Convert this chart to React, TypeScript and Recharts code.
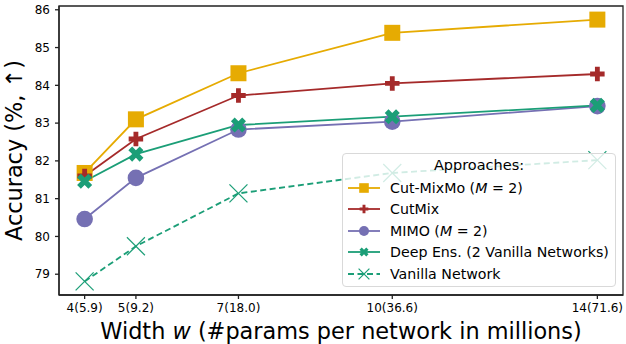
import React from 'react';
import {
  LineChart,
  Line,
  XAxis,
  YAxis,
  Legend,
  ReferenceArea,
} from 'recharts';

const widths = [4, 5, 7, 10, 14];
const paramCounts = ['5.9', '9.2', '18.0', '36.6', '71.6'];
const accuracyTicks = [79, 80, 81, 82, 83, 84, 85, 86];

const cutMixMo = [81.68, 83.1, 84.32, 85.39, 85.74];
const cutMix = [81.6, 82.58, 83.73, 84.05, 84.3];
const mimo = [80.46, 81.55, 82.83, 83.04, 83.45];
const deepEns = [81.46, 82.18, 82.95, 83.17, 83.47];
const vanilla = [78.81, 79.74, 81.14, 81.68, 82.02];

const data = widths.map((w, i) => ({
  w,
  cutMixMo: cutMixMo[i],
  cutMix: cutMix[i],
  mimo: mimo[i],
  deepEns: deepEns[i],
  vanilla: vanilla[i],
}));

const FONT = 'DejaVu Sans, sans-serif';
const X_DOMAIN = [3.5, 14.5];
const Y_DOMAIN = [78.45, 86.1];

type Shape = 'square' | 'plus' | 'filledX' | 'circle' | 'thinX';

function plusPath(cx: number, cy: number, s: number) {
  const a = s / 2;
  const b = s / 6;
  return `M${cx - b},${cy - a}L${cx + b},${cy - a}L${cx + b},${cy - b}L${cx + a},${cy - b}L${cx + a},${cy + b}L${cx + b},${cy + b}L${cx + b},${cy + a}L${cx - b},${cy + a}L${cx - b},${cy + b}L${cx - a},${cy + b}L${cx - a},${cy - b}L${cx - b},${cy - b}Z`;
}

function Marker({ shape, cx, cy, color, scale = 1 }: { shape: Shape; cx: number; cy: number; color: string; scale?: number }) {
  if (shape === 'square') {
    const s = 16 * scale;
    return <rect x={cx - s / 2} y={cy - s / 2} width={s} height={s} fill={color} />;
  }
  if (shape === 'circle') {
    return <circle cx={cx} cy={cy} r={8.3 * scale} fill={color} />;
  }
  if (shape === 'plus') {
    return <path d={plusPath(cx, cy, 14.5 * scale)} fill={color} />;
  }
  if (shape === 'filledX') {
    return <path d={plusPath(cx, cy, 16 * scale)} fill={color} transform={`rotate(45 ${cx} ${cy})`} />;
  }
  const h = 9 * scale;
  return (
    <g stroke={color} strokeWidth={1.2}>
      <line x1={cx - h} y1={cy - h} x2={cx + h} y2={cy + h} />
      <line x1={cx - h} y1={cy + h} x2={cx + h} y2={cy - h} />
    </g>
  );
}

const series = [
  { key: 'cutMixMo', color: '#e6ab02', shape: 'square' as Shape, label: <>Cut-MixMo (<i>M</i> = 2)</> },
  { key: 'cutMix', color: '#a52a2a', shape: 'plus' as Shape, label: <>CutMix</> },
  { key: 'mimo', color: '#7570b3', shape: 'circle' as Shape, label: <>MIMO (<i>M</i> = 2)</> },
  { key: 'deepEns', color: '#1b9e77', shape: 'filledX' as Shape, label: <>Deep Ens. (2 Vanilla Networks)</> },
  { key: 'vanilla', color: '#1b9e77', shape: 'thinX' as Shape, label: <>Vanilla Network</>, dashed: true },
];

function LegendBox() {
  return (
    <div
      style={{
        boxSizing: 'border-box',
        width: 274,
        height: 134,
        border: '1px solid #d9d9d9',
        borderRadius: 4,
        background: 'rgba(255,255,255,0.8)',
        fontFamily: FONT,
        fontSize: 14.2,
        color: '#000',
      }}
    >
      <div style={{ height: 23, lineHeight: '23px', textAlign: 'center', fontSize: 14.5 }}>Approaches:</div>
      {series.map((s) => (
        <div key={s.key} style={{ height: 21.5, display: 'flex', alignItems: 'center' }}>
          <svg width={40} height={20} style={{ marginLeft: 4, flex: 'none' }}>
            <line
              x1={1}
              y1={10}
              x2={33}
              y2={10}
              stroke={s.color}
              strokeWidth={1.8}
              strokeDasharray={s.dashed ? '6 3.5' : undefined}
            />
            <Marker shape={s.shape} cx={17} cy={10} color={s.color} scale={0.6} />
          </svg>
          <span style={{ marginLeft: 3, whiteSpace: 'nowrap' }}>{s.label}</span>
        </div>
      ))}
    </div>
  );
}

function XLabel(props: any) {
  const vb = props.viewBox || {};
  const x = vb.x + vb.width / 2;
  const y = vb.y + vb.height - 5;
  return (
    <text x={x} y={y} textAnchor="middle" fontFamily={FONT} fontSize={22.4} fill="#000">
      Width <tspan fontStyle="italic">w</tspan> (#params per network in millions)
    </text>
  );
}

export default function App() {
  return (
    <div style={{ position: 'absolute', left: 0, top: 0, background: '#fff' }}>
      <LineChart width={626} height={344} data={data} margin={{ top: 6, right: 3, left: 0, bottom: 0 }}>
        <XAxis
          dataKey="w"
          type="number"
          domain={X_DOMAIN}
          ticks={widths}
          allowDataOverflow
          tickFormatter={(v: number) => `${v}(${paramCounts[widths.indexOf(v)]})`}
          height={49}
          tickSize={4}
          tickMargin={4}
          stroke="#222"
          strokeWidth={1.3}
          tick={{ fill: '#000', fontSize: 12, fontFamily: FONT }}
          label={<XLabel />}
        />
        <YAxis
          type="number"
          domain={Y_DOMAIN}
          ticks={accuracyTicks}
          allowDataOverflow
          width={59}
          tickSize={4}
          tickMargin={5}
          stroke="#222"
          strokeWidth={1.3}
          tick={{ fill: '#000', fontSize: 12, fontFamily: FONT }}
          label={{
            value: 'Accuracy (%, \u2191)',
            angle: -90,
            position: 'center',
            dx: -15,
            style: { fontFamily: FONT, fontSize: 22.4, fill: '#000', textAnchor: 'middle' },
          }}
        />
        <ReferenceArea
          x1={X_DOMAIN[0]}
          x2={X_DOMAIN[1]}
          y1={Y_DOMAIN[0]}
          y2={Y_DOMAIN[1]}
          fill="none"
          stroke="#222"
          strokeWidth={1.3}
        />
        {series.map((s) => (
          <Line
            key={s.key}
            dataKey={s.key}
            stroke={s.color}
            strokeWidth={1.8}
            strokeDasharray={s.dashed ? '6 3.5' : undefined}
            isAnimationActive={false}
            dot={(p: any) => (
              <Marker key={`${s.key}-${p.index}`} shape={s.shape} cx={p.cx} cy={p.cy} color={s.color} />
            )}
            activeDot={false}
          />
        ))}
        <Legend
          layout="horizontal"
          verticalAlign="middle"
          align="center"
          content={() => <LegendBox />}
          wrapperStyle={{ left: 342, top: 153, width: 274, height: 134, right: 'auto', bottom: 'auto' }}
        />
      </LineChart>
    </div>
  );
}
